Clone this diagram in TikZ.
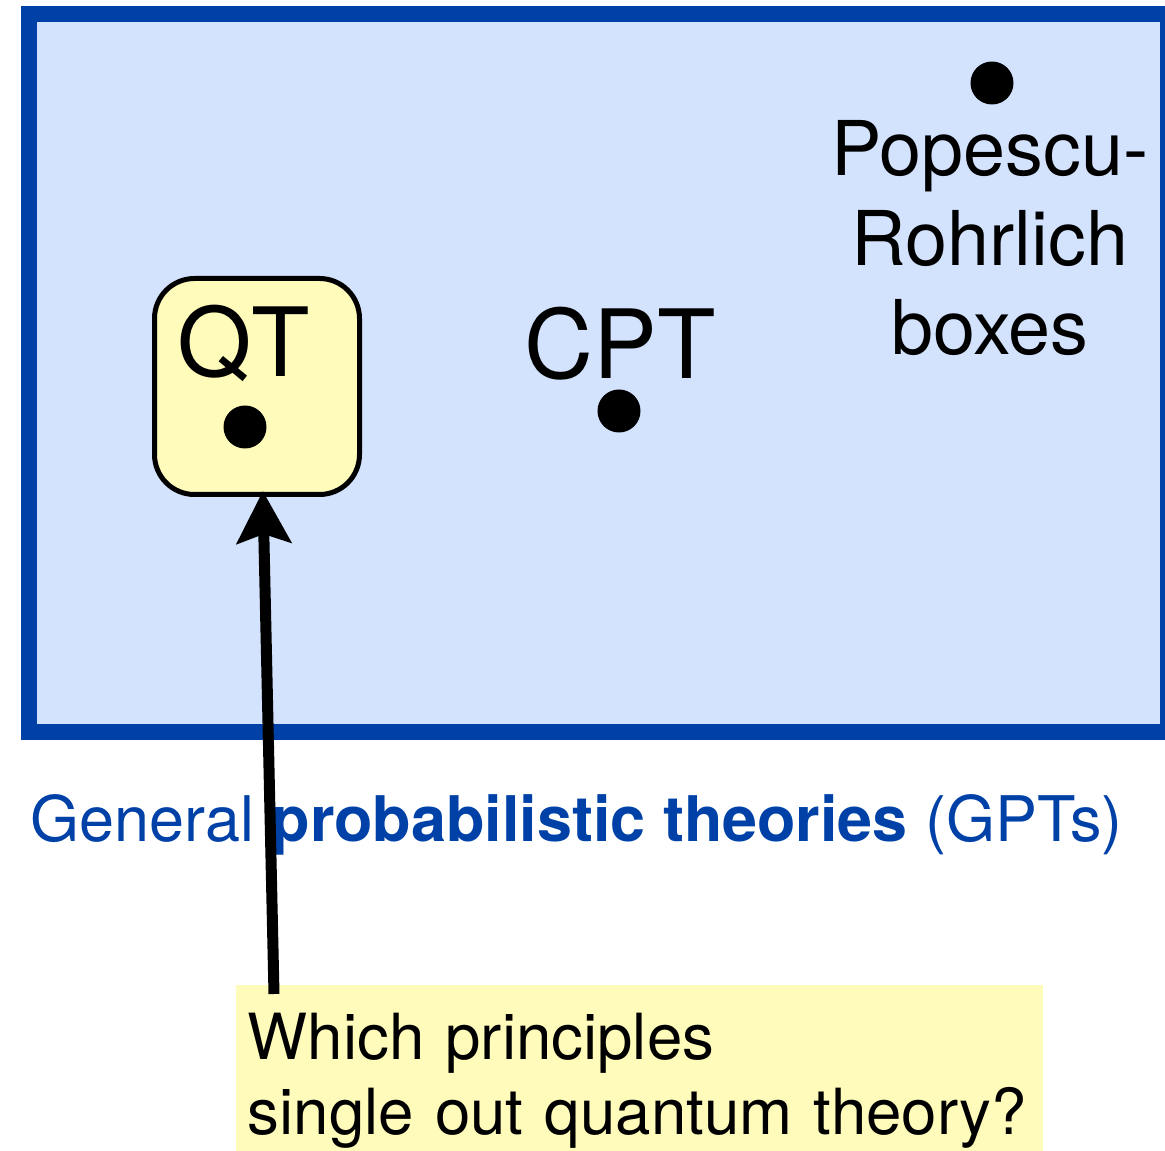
\documentclass[tikz,border=0pt]{standalone}
\usepackage{fontspec}
\setmainfont{TeX Gyre Heros}
\usetikzlibrary{arrows.meta, positioning}
\definecolor{gptblue}{HTML}{0041A8}
\definecolor{gptfill}{HTML}{D3E3FD}
\definecolor{qtyellow}{HTML}{FFFBBB}

\begin{document}
\begin{tikzpicture}[
    region/.style={draw=gptblue, fill=gptfill, line width=0.16cm, inner sep=0pt},
    theory/.style={draw, fill=qtyellow, line width=0.05cm, rounded corners=0.4cm,
                   inner sep=0pt},
    dot/.style={circle, fill=black, inner sep=0pt, minimum size=0.43cm},
    big/.style={font=\fontsize{27.2}{30}\selectfont, anchor=base, inner sep=0pt},
    note/.style={font=\fontsize{21.5}{25.6}\selectfont, align=center, inner sep=0pt},
    question/.style={fill=qtyellow, font=\fontsize{18.1}{21.6}\selectfont, align=left,
                     text width=7.83cm, inner xsep=0.12cm, inner ysep=0.28cm},
    arrow/.style={-{Stealth[length=0.52cm, width=0.54cm, inset=0.09cm]}, line width=0.11cm}
]
\useasboundingbox (0,0) rectangle (11.65,11.51);

% GPT region
\node[region, minimum width=11.39cm, minimum height=7.18cm] (gpt) at (5.985,7.78) {};
\node[anchor=base west, inner sep=0pt, text=gptblue, font=\fontsize{17.9}{22}\selectfont]
  (gptlabel) at (0.30,3.09) {General \textbf{probabilistic theories} (GPTs)};

% Quantum theory
\node[theory, minimum width=2.05cm, minimum height=2.16cm] (qt) at (2.57,7.645) {};
\node[big] (qtlabel) at (2.44,7.74) {QT};
\node[dot] (qtdot) at (2.45,7.24) {};

% Classical theory
\node[big] (cptlabel) at (6.20,7.72) {CPT};
\node[dot] (cptdot) at (6.19,7.40) {};

% PR boxes
\node[dot] (prdot) at (9.92,10.68) {};
\node[note, anchor=base] (prlabel) at (9.90,7.96) {Popescu-\\Rohrlich\\boxes};

% Question
\node[question, anchor=north west] (quest) at (2.35,1.67)
  {Which principles\\single out quantum theory?};
\coordinate (qstart) at ([xshift=0.39cm, yshift=-0.10cm]quest.north west);
\draw[arrow, shorten >=-0.06cm] (qstart) -- ([xshift=0.06cm]qt.south);
\end{tikzpicture}
\end{document}
